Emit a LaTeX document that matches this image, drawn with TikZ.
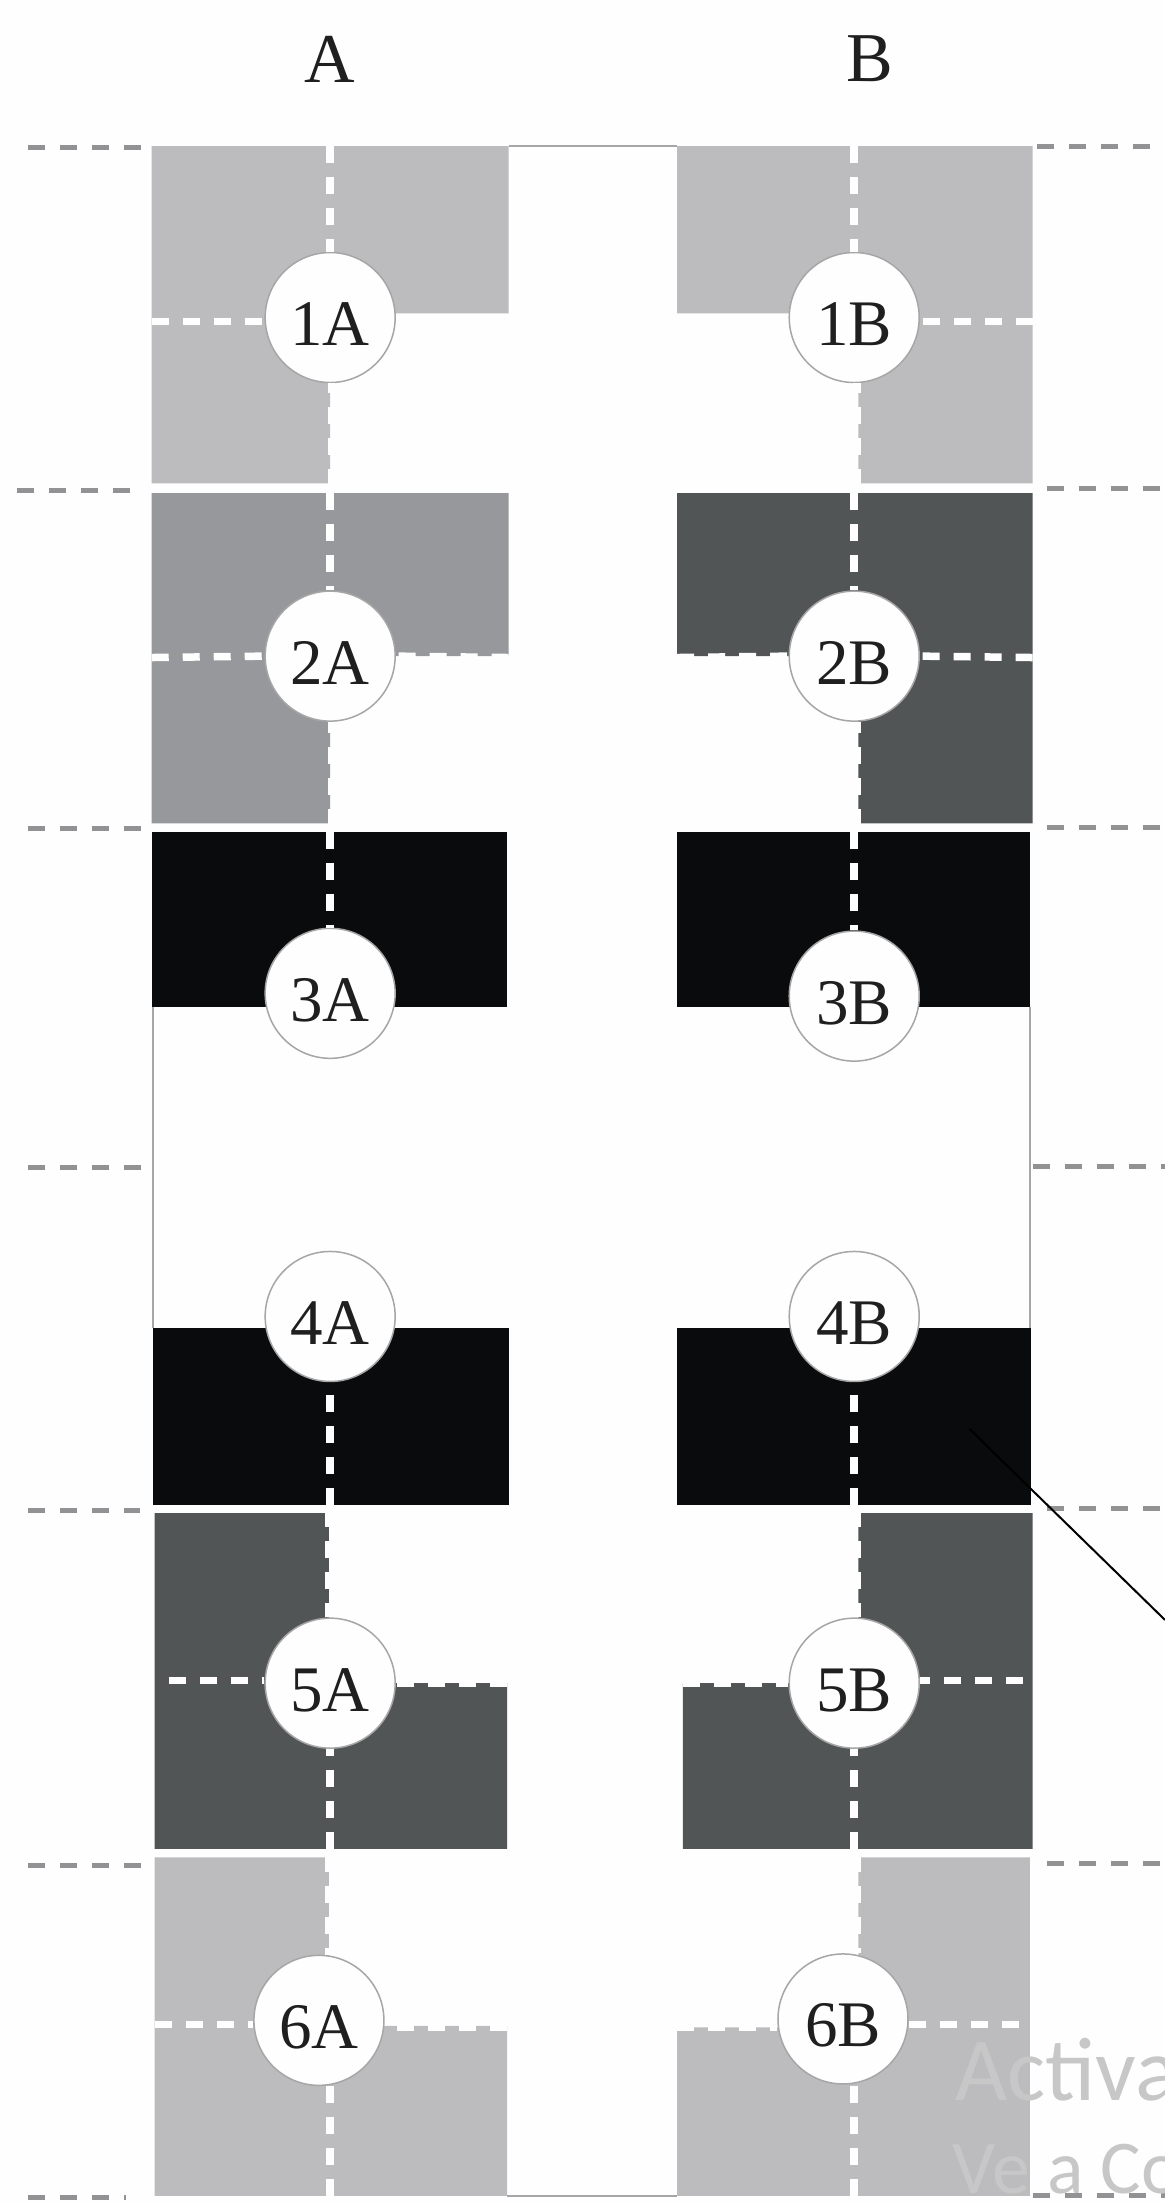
\documentclass[tikz,border=0pt]{standalone}
\usepackage{fontspec}
\setmainfont{Liberation Serif}
\newfontfamily\wmfont{Carlito}
\definecolor{blockA}{HTML}{BCBCBE}
\definecolor{blockB}{HTML}{97989B}
\definecolor{blockC}{HTML}{525556}
\definecolor{blockD}{HTML}{0A0B0D}
\definecolor{rulegray}{HTML}{929294}
\definecolor{pagebg}{HTML}{FEFEFE}
\newcommand{\tag}[1]{\raisebox{-28pt}[0pt][0pt]{#1}}
\tikzset{
  wdash/.style={draw=pagebg,line width=7.5pt,dash pattern=on 17pt off 14pt},
  gdash/.style={draw=rulegray,line width=5pt,dash pattern=on 17pt off 15pt},
  frameline/.style={draw=black!35,line width=2pt},
  badge/.style={circle,draw=black!35,line width=1.5pt,fill=pagebg,minimum size=130pt,inner sep=0pt,
    font=\fontsize{65}{68}\selectfont,text=black!88},
  head/.style={font=\fontsize{70}{74}\selectfont,text=black!88,inner sep=0pt},
  wm/.style={text=black!22,inner sep=0pt,anchor=base west}
}
\begin{document}
\begin{tikzpicture}[x=1.405pt,y=-1.405pt]
\fill[pagebg] (0,0) rectangle (829.2,1567.3);
\useasboundingbox (0,0) rectangle (829.2,1567.3);
% heads
\node[head] (hA) at (235,42) {A};
\node[head] (hB) at (619,42) {B};
% blocks
\fill[blockA] (108,104)--(362,104)--(362,223)--(235,223)--(235,344)--(108,344)--cycle;
\fill[blockA] (482,104)--(735,104)--(735,344)--(611,344)--(611,223)--(482,223)--cycle;
\fill[blockB] (108,351)--(362,351)--(362,467)--(235,467)--(235,586)--(108,586)--cycle;
\fill[blockC] (482,351)--(735,351)--(735,586)--(611,586)--(611,467)--(482,467)--cycle;
\fill[blockD] (108,592) rectangle (361,717);
\fill[blockD] (482,592) rectangle (733,717);
\fill[blockD] (109,945) rectangle (362,1071);
\fill[blockD] (482,945) rectangle (734,1071);
\fill[blockC] (110,1077)--(234,1077)--(234,1198)--(361,1198)--(361,1316)--(110,1316)--cycle;
\fill[blockC] (611,1077)--(735,1077)--(735,1316)--(486,1316)--(486,1198)--(611,1198)--cycle;
\fill[blockA] (110,1322)--(234,1322)--(234,1442)--(361,1442)--(361,1563)--(110,1563)--cycle;
\fill[blockA] (611,1322)--(733,1322)--(733,1563)--(482,1563)--(482,1443)--(611,1443)--cycle;
% frame lines
\coordinate (fa1) at (362,104); \coordinate (fa2) at (482,104);
\coordinate (fb1) at (361,1563); \coordinate (fb2) at (482,1563);
\coordinate (fc1) at (109,717); \coordinate (fc2) at (109,945);
\coordinate (fd1) at (733,717); \coordinate (fd2) at (733,945);
\draw[frameline] (fa1)--(fa2);
\draw[frameline] (fb1)--(fb2);
\draw[frameline] (fc1)--(fc2);
\draw[frameline] (fd1)--(fd2);
% badges
\node[badge] (c1A) at (235,226) {\tag{1A}};
\node[badge] (c1B) at (608,226) {\tag{1B}};
\node[badge] (c2A) at (235,467) {\tag{2A}};
\node[badge] (c2B) at (608,467) {\tag{2B}};
\node[badge] (c3A) at (235,707) {\tag{3A}};
\node[badge] (c3B) at (608,709) {\tag{3B}};
\node[badge] (c4A) at (235,937) {\tag{4A}};
\node[badge] (c4B) at (608,937) {\tag{4B}};
\node[badge] (c5A) at (235,1198) {\tag{5A}};
\node[badge] (c5B) at (608,1198) {\tag{5B}};
\node[badge] (c6A) at (227,1438) {\tag{6A}};
\node[badge] (c6B) at (600,1437) {\tag{6B}};
% white dashes: 1A
\coordinate (a1t) at (235,104); \coordinate (a1l) at (108,229); \coordinate (a1b) at (236,346);
\draw[wdash] (a1t)--(a1t|-c1A.north);
\draw[wdash] (a1l)--(a1l-|c1A.west);
\draw[wdash] (a1b)--(a1b|-c1A.south);
% 1B
\coordinate (b1t) at (608,104); \coordinate (b1r) at (735,229); \coordinate (b1b) at (610,346);
\draw[wdash] (b1t)--(b1t|-c1B.north);
\draw[wdash] (b1r)--(b1r-|c1B.east);
\draw[wdash] (b1b)--(b1b|-c1B.south);
% 2A
\coordinate (a2t) at (235,351); \coordinate (a2l) at (108,468); \coordinate (a2r) at (362,468); \coordinate (a2b) at (236,588);
\draw[wdash] (a2t)--(a2t|-c2A.north);
\draw[wdash] (a2l)--(c2A.west);
\draw[wdash] (a2r)--(c2A.east);
\draw[wdash] (a2b)--(a2b|-c2A.south);
% 2B
\coordinate (b2t) at (608,351); \coordinate (b2l) at (482,468); \coordinate (b2r) at (735,468); \coordinate (b2b) at (610,588);
\draw[wdash] (b2t)--(b2t|-c2B.north);
\draw[wdash] (b2l)--(c2B.west);
\draw[wdash] (b2r)--(c2B.east);
\draw[wdash] (b2b)--(b2b|-c2B.south);
% 3
\coordinate (a3t) at (235,592); \coordinate (b3t) at (608,592);
\draw[wdash] (a3t)--(c3A.north);
\draw[wdash] (b3t)--(c3B.north);
% 4
\coordinate (a4b) at (235,1071); \coordinate (b4b) at (608,1071);
\draw[wdash] (a4b)--(c4A.south);
\draw[wdash] (b4b)--(c4B.south);
% 5A
\coordinate (a5t) at (234,1075); \coordinate (a5l) at (120,1196); \coordinate (a5r) at (361,1198); \coordinate (a5b) at (235,1316);
\draw[wdash] (a5t)--(a5t|-c5A.north);
\draw[wdash] (a5l)--(a5l-|c5A.west);
\draw[wdash] (a5r)--(c5A.east);
\draw[wdash] (a5b)--(c5A.south);
% 5B
\coordinate (b5t) at (610,1075); \coordinate (b5l) at (486,1198); \coordinate (b5r) at (728,1196); \coordinate (b5b) at (608,1316);
\draw[wdash] (b5t)--(b5t|-c5B.north);
\draw[wdash] (b5l)--(c5B.west);
\draw[wdash] (b5r)--(b5r-|c5B.east);
\draw[wdash] (b5b)--(c5B.south);
% 6A
\coordinate (a6t) at (234,1320); \coordinate (a6l) at (110,1441); \coordinate (a6r) at (361,1443); \coordinate (a6b) at (235,1563);
\draw[wdash] (a6t)--(a6t|-c6A.north);
\draw[wdash] (a6l)--(a6l-|c6A.west);
\draw[wdash] (a6r)--(a6r-|c6A.east);
\draw[wdash] (a6b)--(a6b|-c6A.south);
% 6B
\coordinate (b6t) at (610,1320); \coordinate (b6l) at (482,1443); \coordinate (b6r) at (725,1441); \coordinate (b6b) at (608,1563);
\draw[wdash] (b6t)--(b6t|-c6B.north);
\draw[wdash] (b6l)--(b6l-|c6B.west);
\draw[wdash] (b6r)--(b6r-|c6B.east);
\draw[wdash] (b6b)--(b6b|-c6B.south);
% outer grey dashes, left
\foreach \n/\y/\xa/\xb in {1/105/20/105,2/349/12/100,3/590/20/105,4/831/20/102,5/1075/20/100,6/1328/20/105,7/1564/20/90}{
  \coordinate (gl\n a) at (\xa,\y); \coordinate (gl\n b) at (\xb,\y);
  \draw[gdash] (gl\n a)--(gl\n b);
}
% outer grey dashes, right
\foreach \n/\y/\xa/\xb in {1/104/738/825,2/348/745/829,3/589/745/829,4/830/735/829,5/1074/745/829,6/1326/745/829,7/1563/735/829}{
  \coordinate (gr\n a) at (\xa,\y); \coordinate (gr\n b) at (\xb,\y);
  \draw[gdash] (gr\n a)--(gr\n b);
}
% diagonal leader
\coordinate (da) at (690,1017); \coordinate (db) at (829.2,1153);
\draw[black,line width=2pt] (da)--(db);
% watermark
\begin{scope}
\clip (0,0) rectangle (829.2,1567.3);
\node[wm,font=\wmfont\fontsize{90}{94}\selectfont] (w1) at (680,1495) {Activa};
\node[wm,font=\wmfont\fontsize{76}{80}\selectfont] (w2) at (678,1561) {Ve a Co};
\end{scope}
\end{tikzpicture}
\end{document}
